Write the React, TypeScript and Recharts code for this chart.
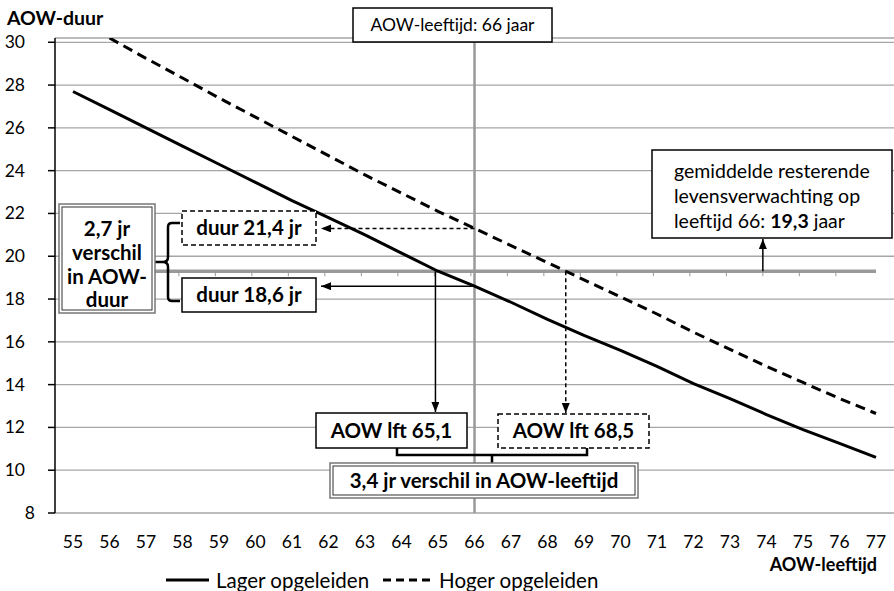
import { LineChart, Line, XAxis, YAxis, CartesianGrid, ReferenceLine, Legend } from 'recharts'

// leeftijd (categorie-as)
const AGES = [55, 56, 57, 58, 59, 60, 61, 62, 63, 64, 65, 66, 67, 68, 69, 70, 71, 72, 73, 74, 75, 76, 77]
// resterende AOW-duur in jaren
const LAGER = [27.7, 26.85, 26.0, 25.15, 24.3, 23.45, 22.6, 21.8, 21.0, 20.15, 19.3, 18.6, 17.85, 17.05, 16.3, 15.6, 14.85, 14.05, 13.35, 12.6, 11.9, 11.25, 10.6]
const HOGER = [null, 30.2, 29.25, 28.33, 27.4, 26.5, 25.6, 24.7, 23.8, 22.95, 22.1, 21.3, 20.5, 19.7, 18.9, 18.1, 17.3, 16.45, 15.65, 14.85, 14.1, 13.35, 12.65]
const Y_TICKS = [8, 10, 12, 14, 16, 18, 20, 22, 24, 26, 28, 30]

const AOW_AGE = 66
const LIFE_EXP = 19.3
const CROSS_LAGER = 64.93
const CROSS_HOGER = 68.5

const data = AGES.map((age, i) => ({ age, lager: LAGER[i], hoger: HOGER[i] }))

const FONT = "Lato, 'Open Sans', sans-serif"
const W = 894
const H = 591
const M = { top: 38, right: 0, bottom: 0, left: 0 }
const Y_AXIS_W = 55
const X_AXIS_H = 78
const X_PAD = 18
const Y_MIN = 8
const Y_MAX = 30.2

const plotL = M.left + Y_AXIS_W
const plotR = W - M.right
const plotT = M.top
const plotB = H - M.bottom - X_AXIS_H

// zelfde schaal als de grafiek, voor de annotaties
const xOf = (age: number) =>
  plotL + X_PAD + ((age - AGES[0]) * (plotR - plotL - 2 * X_PAD)) / (AGES[AGES.length - 1] - AGES[0])
const yOf = (v: number) => plotB - ((v - Y_MIN) * (plotB - plotT)) / (Y_MAX - Y_MIN)

const SERIES = [
  { key: 'lager', name: 'Lager opgeleiden', dash: undefined as string | undefined },
  { key: 'hoger', name: 'Hoger opgeleiden', dash: '10 6' },
]

// eslint-disable-next-line @typescript-eslint/no-explicit-any
const YTick = ({ x, y, payload }: any) => (
  <text x={payload.value < 10 ? x + 10 : x} y={y} dy={6} textAnchor="end" fontFamily={FONT} fontSize={17.5} fill="#000">
    {payload.value}
  </text>
)

const renderLegend = () => (
  <div style={{ display: 'flex', alignItems: 'center', fontFamily: FONT, fontSize: 20.5, color: '#000', paddingLeft: 166 }}>
    {SERIES.map(s => (
      <span key={s.key} style={{ display: 'inline-flex', alignItems: 'center', marginRight: 14 }}>
        <svg width={s.dash ? 49 : 43} height={10} style={{ marginRight: 7 }}>
          <line x1={0} y1={5} x2={s.dash ? 49 : 43} y2={5} stroke="#000" strokeWidth={3} strokeDasharray={s.dash ? '8 5' : undefined} />
        </svg>
        {s.name}
      </span>
    ))}
  </div>
)

function Box({ x, y, w, h, dashed = false }: { x: number; y: number; w: number; h: number; dashed?: boolean }) {
  return <rect x={x} y={y} width={w} height={h} fill="#fff" stroke="#000" strokeWidth={1.5} strokeDasharray={dashed ? '5 3' : undefined} />
}

function DoubleBox({ x, y, w, h }: { x: number; y: number; w: number; h: number }) {
  return (
    <g>
      <rect x={x} y={y} width={w} height={h} fill="#fff" stroke="#777" strokeWidth={1.5} />
      <rect x={x + 3} y={y + 3} width={w - 6} height={h - 6} fill="none" stroke="#333" strokeWidth={1} />
    </g>
  )
}

function Annotations() {
  const y66H = yOf(HOGER[AGES.indexOf(AOW_AGE)] as number)
  const y66L = yOf(LAGER[AGES.indexOf(AOW_AGE)])
  const yLife = yOf(LIFE_EXP)
  const bold = { fontFamily: FONT, fontSize: 20.5, fontWeight: 700, fill: '#000' } as const
  return (
    <svg width={W} height={H} style={{ position: 'absolute', left: 0, top: 0, pointerEvents: 'none' }}>
      <defs>
        <marker id="arrow" viewBox="0 0 10 8" refX={10} refY={4} markerWidth={10} markerHeight={8} markerUnits="userSpaceOnUse" orient="auto">
          <path d="M0,0 L10,4 L0,8 z" fill="#000" />
        </marker>
      </defs>

      {/* kleine streepjes op de 19,3-lijn */}
      {AGES.slice(1, -1).map(a => (
        <line key={a} x1={xOf(a - 0.1)} x2={xOf(a - 0.1)} y1={yLife + 1} y2={yLife + 5} stroke="#999" strokeWidth={1} />
      ))}

      {/* AOW-leeftijd kader */}
      <Box x={353} y={8} w={199} h={34} />
      <text x={452.5} y={31} textAnchor="middle" fontFamily={FONT} fontSize={17.5} fill="#000">AOW-leeftijd: 66 jaar</text>

      {/* levensverwachting */}
      <Box x={652} y={150} w={240} h={88} />
      <text fontFamily={FONT} fontSize={19.5} fill="#000">
        <tspan x={674} y={178}>gemiddelde resterende</tspan>
        <tspan x={674} y={203}>levensverwachting op</tspan>
        <tspan x={674} y={228}>leeftijd 66: <tspan fontWeight={700}>19,3</tspan> jaar</tspan>
      </text>
      <line x1={xOf(73.9)} x2={xOf(73.9)} y1={yLife} y2={239} stroke="#000" strokeWidth={1.5} markerEnd="url(#arrow)" />

      {/* duur-pijlen */}
      <line x1={xOf(AOW_AGE)} x2={321} y1={y66H} y2={y66H} stroke="#000" strokeWidth={1.5} strokeDasharray="4 3" markerEnd="url(#arrow)" />
      <line x1={xOf(AOW_AGE)} x2={321} y1={y66L} y2={y66L} stroke="#000" strokeWidth={1.5} markerEnd="url(#arrow)" />
      <Box x={182} y={211} w={134} h={34} dashed />
      <text x={249} y={235} textAnchor="middle" {...bold}>duur 21,4 jr</text>
      <Box x={182} y={278} w={134} h={34} />
      <text x={249} y={302} textAnchor="middle" {...bold}>duur 18,6 jr</text>

      {/* accolade links */}
      <path d="M180,223 L172,223 Q168,223 168,227 L168,257 Q168,262 163,262 L155,262 M163,262 Q168,262 168,267 L168,297 Q168,301 172,301 L180,301" fill="none" stroke="#000" strokeWidth={2.5} />
      <DoubleBox x={59} y={204} w={96} h={109} />
      <text textAnchor="middle" {...bold}>
        <tspan x={107} y={236}>2,7 jr</tspan>
        <tspan x={107} y={260}>verschil</tspan>
        <tspan x={107} y={284}>in AOW-</tspan>
        <tspan x={107} y={307}>duur</tspan>
      </text>

      {/* leeftijd-pijlen */}
      <line x1={xOf(CROSS_LAGER)} x2={xOf(CROSS_LAGER)} y1={yLife} y2={412} stroke="#000" strokeWidth={1.5} markerEnd="url(#arrow)" />
      <line x1={xOf(CROSS_HOGER)} x2={xOf(CROSS_HOGER)} y1={yLife} y2={413} stroke="#000" strokeWidth={1.5} strokeDasharray="4 3" markerEnd="url(#arrow)" />
      <Box x={316} y={413} w={151} h={35} />
      <text x={391.5} y={438} textAnchor="middle" {...bold}>AOW lft 65,1</text>
      <Box x={498} y={414} w={151} h={34} dashed />
      <text x={573.5} y={438} textAnchor="middle" {...bold}>AOW lft 68,5</text>

      {/* accolade onder */}
      <path d="M397,448 L397,455 L587,455 L587,448 M492,455 L492,463" fill="none" stroke="#000" strokeWidth={2.5} />
      <DoubleBox x={330} y={463} w={308} h={35} />
      <text x={484} y={488} textAnchor="middle" {...bold}>3,4 jr verschil in AOW-leeftijd</text>
    </svg>
  )
}

export default function App() {
  return (
    <div style={{ position: 'absolute', left: 0, top: 0, width: W, height: H, background: '#fff' }}>
      <LineChart width={W} height={H} data={data} margin={M}>
        <CartesianGrid vertical={false} stroke="#a6a6a6" strokeWidth={1.3} />
        <XAxis
          dataKey="age"
          type="category"
          interval={0}
          height={X_AXIS_H}
          padding={{ left: X_PAD, right: X_PAD }}
          axisLine={false}
          tickLine={false}
          tickMargin={17}
          tick={{ fontFamily: FONT, fontSize: 17.5, fill: '#000' }}
          label={{
            // eslint-disable-next-line @typescript-eslint/no-explicit-any
            content: ({ viewBox }: any) => (
              <text x={xOf(AGES[AGES.length - 1]) + 1} y={viewBox.y + 58} textAnchor="end" fontFamily={FONT} fontSize={18} fontWeight={700} fill="#000">
                AOW-leeftijd
              </text>
            ),
          }}
        />
        <YAxis
          width={Y_AXIS_W}
          domain={[Y_MIN, Y_MAX]}
          ticks={Y_TICKS}
          interval={0}
          allowDataOverflow
          axisLine={{ stroke: '#000', strokeWidth: 1.5 }}
          tickLine={{ stroke: '#000', strokeWidth: 1.5 }}
          tickSize={7}
          tickMargin={23}
          tick={<YTick />}
          label={{
            // eslint-disable-next-line @typescript-eslint/no-explicit-any
            content: ({ viewBox }: any) => (
              <text x={7} y={viewBox.y - 13} fontFamily={FONT} fontSize={19.5} fontWeight={700} fill="#000">
                AOW-duur
              </text>
            ),
          }}
        />
        <ReferenceLine x={AOW_AGE} stroke="#999" strokeWidth={2.5} />
        <ReferenceLine segment={[{ x: AGES[0], y: LIFE_EXP }, { x: AGES[AGES.length - 1], y: LIFE_EXP }]} stroke="#999" strokeWidth={3.5} />
        {SERIES.map(s => (
          <Line
            key={s.key}
            dataKey={s.key}
            name={s.name}
            stroke="#000"
            strokeWidth={3}
            strokeDasharray={s.dash}
            dot={false}
            activeDot={false}
            type="linear"
            isAnimationActive={false}
          />
        ))}
        <Legend verticalAlign="middle" align="center" content={renderLegend} wrapperStyle={{ top: 568, left: 0, width: W, height: 24 }} />
      </LineChart>
      <Annotations />
    </div>
  )
}
